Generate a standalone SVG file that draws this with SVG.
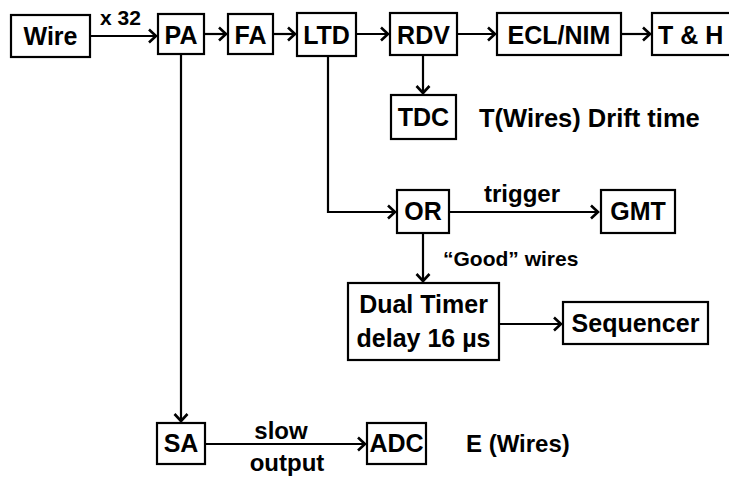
<svg xmlns="http://www.w3.org/2000/svg" width="729" height="479" viewBox="0 0 729 479">
<defs>
<marker id="arr" viewBox="-10 -8 12 16" refX="0" refY="0" markerWidth="12" markerHeight="16" markerUnits="userSpaceOnUse" orient="auto">
<path d="M-8,-6.5 L-1,0 L-8,6.5" fill="none" stroke="#000" stroke-width="2.6" stroke-linejoin="miter"/>
</marker>
<style>
.box{fill:#fff;stroke:#000;stroke-width:2.2}
.t{font-family:"Liberation Sans",Arial,sans-serif;font-weight:bold;font-size:25px;fill:#000;text-anchor:middle}
.l{font-family:"Liberation Sans",Arial,sans-serif;font-weight:bold;fill:#000}
.c{fill:none;stroke:#000;stroke-width:2.2}
</style>
</defs>
<rect width="729" height="479" fill="#fff"/>
<g id="connectors">
<line class="c" x1="90" y1="36" x2="157" y2="36" marker-end="url(#arr)"/>
<line class="c" x1="204" y1="34" x2="227" y2="34" marker-end="url(#arr)"/>
<line class="c" x1="273" y1="34" x2="296" y2="34" marker-end="url(#arr)"/>
<line class="c" x1="356" y1="34" x2="389" y2="34" marker-end="url(#arr)"/>
<line class="c" x1="457" y1="34" x2="496" y2="34" marker-end="url(#arr)"/>
<line class="c" x1="621" y1="34" x2="651" y2="34" marker-end="url(#arr)"/>
<line class="c" x1="423" y1="55" x2="423" y2="94" marker-end="url(#arr)"/>
<polyline class="c" points="328,56 328,212 396,212" marker-end="url(#arr)"/>
<line class="c" x1="449" y1="212" x2="599" y2="212" marker-end="url(#arr)"/>
<line class="c" x1="423" y1="233" x2="423" y2="282" marker-end="url(#arr)"/>
<line class="c" x1="499" y1="324" x2="562" y2="324" marker-end="url(#arr)"/>
<line class="c" x1="181" y1="54" x2="181" y2="422" marker-end="url(#arr)"/>
<line class="c" x1="205" y1="444" x2="366" y2="444" marker-end="url(#arr)"/>
<text class="l" x="100" y="25" font-size="21">x 32</text>
<text class="l" x="522" y="202" font-size="24" text-anchor="middle">trigger</text>
<text class="l" x="443" y="266" font-size="21">“Good” wires</text>
<text class="l" x="281" y="439" font-size="24" text-anchor="middle">slow</text>
<text class="l" x="287" y="471" font-size="24" text-anchor="middle">output</text>
</g>
<g id="wire"><rect class="box" x="11" y="15" width="79" height="42"/><text class="t" x="50.5" y="45">Wire</text></g>
<g id="pa"><rect class="box" x="158" y="14" width="46" height="40"/><text class="t" x="181" y="44">PA</text></g>
<g id="fa"><rect class="box" x="228" y="14" width="45" height="40"/><text class="t" x="250.5" y="44">FA</text></g>
<g id="ltd"><rect class="box" x="297" y="13" width="59" height="43"/><text class="t" x="326.5" y="44">LTD</text></g>
<g id="rdv"><rect class="box" x="390" y="13" width="67" height="42"/><text class="t" x="423.5" y="44">RDV</text></g>
<g id="eclnim"><rect class="box" x="497" y="13" width="124" height="42"/><text class="t" x="559" y="44">ECL/NIM</text></g>
<g id="th"><rect class="box" x="652" y="13" width="82" height="42"/><text class="t" x="658" y="44" style="text-anchor:start">T &amp; H</text></g>
<g id="tdc"><rect class="box" x="391" y="95" width="65" height="44"/><text class="t" x="423.5" y="126">TDC</text></g>
<g id="tdc-label"><text class="l" x="479" y="127" font-size="25.5">T(Wires) Drift time</text></g>
<g id="or"><rect class="box" x="397" y="190" width="52" height="43"/><text class="t" x="423" y="220">OR</text></g>
<g id="gmt"><rect class="box" x="601" y="190" width="74" height="43"/><text class="t" x="638" y="220">GMT</text></g>
<g id="dualtimer"><rect class="box" x="348" y="283" width="151" height="77"/><text class="t" x="423.5" y="313">Dual Timer</text><text class="t" x="423.5" y="347">delay 16 µs</text></g>
<g id="sequencer"><rect class="box" x="563" y="302" width="145" height="42"/><text class="t" x="635.5" y="332">Sequencer</text></g>
<g id="sa"><rect class="box" x="157" y="423" width="48" height="41"/><text class="t" x="181" y="452">SA</text></g>
<g id="adc"><rect class="box" x="367" y="423" width="59" height="41"/><text class="t" x="396.5" y="452">ADC</text></g>
<g id="adc-label"><text class="l" x="466" y="452" font-size="24">E (Wires)</text></g>
</svg>
